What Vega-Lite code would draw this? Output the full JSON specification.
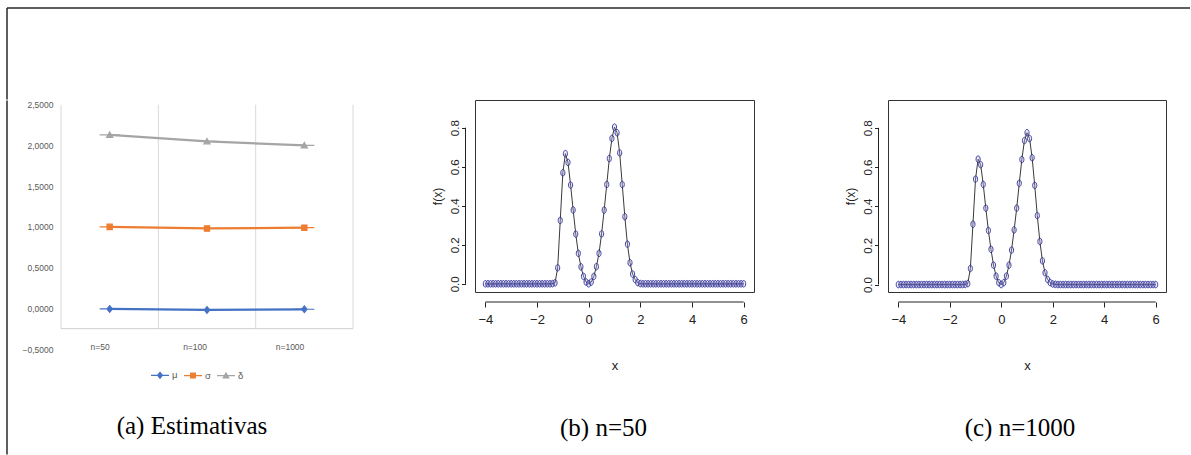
{
"$schema": "https://vega.github.io/schema/vega-lite/v6.json",
"padding": {"left": 6, "top": 7, "right": 0, "bottom": 0},
"autosize": {"type": "pad"},
"background": "white",
"config": {"view": {"stroke": null}},
"datasets": {
"est": [
{"n": "n=50", "series": "μ", "value": -0.008},
{"n": "n=100", "series": "μ", "value": -0.02},
{"n": "n=1000", "series": "μ", "value": -0.012},
{"n": "n=50", "series": "σ", "value": 1.0},
{"n": "n=100", "series": "σ", "value": 0.98},
{"n": "n=1000", "series": "σ", "value": 0.99},
{"n": "n=50", "series": "δ", "value": 2.13},
{"n": "n=100", "series": "δ", "value": 2.05},
{"n": "n=1000", "series": "δ", "value": 2.0}
],
"b": [
{"x":-4,"f":0},{"x":-3.9,"f":0},{"x":-3.8,"f":0},{"x":-3.7,"f":0},{"x":-3.6,"f":0},{"x":-3.5,"f":0},{"x":-3.4,"f":0},{"x":-3.3,"f":0},{"x":-3.2,"f":0},{"x":-3.1,"f":0},
{"x":-3,"f":0},{"x":-2.9,"f":0},{"x":-2.8,"f":0},{"x":-2.7,"f":0},{"x":-2.6,"f":0},{"x":-2.5,"f":0},{"x":-2.4,"f":0},{"x":-2.3,"f":0},{"x":-2.2,"f":0},{"x":-2.1,"f":0},
{"x":-2,"f":0},{"x":-1.9,"f":0},{"x":-1.8,"f":0},{"x":-1.7,"f":0},{"x":-1.6,"f":0},{"x":-1.5,"f":0},{"x":-1.4,"f":0.001},
{"x":-1.3,"f":0.005},{"x":-1.2,"f":0.082},{"x":-1.1,"f":0.325},{"x":-1,"f":0.569},{"x":-0.9,"f":0.667},{"x":-0.8,"f":0.622},{"x":-0.7,"f":0.506},{"x":-0.6,"f":0.378},{"x":-0.5,"f":0.255},{"x":-0.4,"f":0.156},
{"x":-0.3,"f":0.087},{"x":-0.2,"f":0.038},{"x":-0.1,"f":0.009},{"x":0,"f":0},{"x":0.1,"f":0.009},{"x":0.2,"f":0.038},{"x":0.3,"f":0.088},{"x":0.4,"f":0.156},{"x":0.5,"f":0.256},{"x":0.6,"f":0.378},
{"x":0.7,"f":0.509},{"x":0.8,"f":0.642},{"x":0.9,"f":0.745},{"x":1,"f":0.803},{"x":1.1,"f":0.774},{"x":1.2,"f":0.671},{"x":1.3,"f":0.509},{"x":1.4,"f":0.344},{"x":1.5,"f":0.203},{"x":1.6,"f":0.108},
{"x":1.7,"f":0.05},{"x":1.8,"f":0.022},{"x":1.9,"f":0.006},{"x":2,"f":0.001},
{"x":2.1,"f":0},{"x":2.2,"f":0},{"x":2.3,"f":0},{"x":2.4,"f":0},{"x":2.5,"f":0},{"x":2.6,"f":0},{"x":2.7,"f":0},{"x":2.8,"f":0},{"x":2.9,"f":0},{"x":3,"f":0},
{"x":3.1,"f":0},{"x":3.2,"f":0},{"x":3.3,"f":0},{"x":3.4,"f":0},{"x":3.5,"f":0},{"x":3.6,"f":0},{"x":3.7,"f":0},{"x":3.8,"f":0},{"x":3.9,"f":0},{"x":4,"f":0},
{"x":4.1,"f":0},{"x":4.2,"f":0},{"x":4.3,"f":0},{"x":4.4,"f":0},{"x":4.5,"f":0},{"x":4.6,"f":0},{"x":4.7,"f":0},{"x":4.8,"f":0},{"x":4.9,"f":0},{"x":5,"f":0},
{"x":5.1,"f":0},{"x":5.2,"f":0},{"x":5.3,"f":0},{"x":5.4,"f":0},{"x":5.5,"f":0},{"x":5.6,"f":0},{"x":5.7,"f":0},{"x":5.8,"f":0},{"x":5.9,"f":0},{"x":6,"f":0}
],
"c": [
{"x":-4,"f":0},{"x":-3.9,"f":0},{"x":-3.8,"f":0},{"x":-3.7,"f":0},{"x":-3.6,"f":0},{"x":-3.5,"f":0},{"x":-3.4,"f":0},{"x":-3.3,"f":0},{"x":-3.2,"f":0},{"x":-3.1,"f":0},
{"x":-3,"f":0},{"x":-2.9,"f":0},{"x":-2.8,"f":0},{"x":-2.7,"f":0},{"x":-2.6,"f":0},{"x":-2.5,"f":0},{"x":-2.4,"f":0},{"x":-2.3,"f":0},{"x":-2.2,"f":0},{"x":-2.1,"f":0},
{"x":-2,"f":0},{"x":-1.9,"f":0},{"x":-1.8,"f":0},{"x":-1.7,"f":0},{"x":-1.6,"f":0},{"x":-1.5,"f":0},{"x":-1.4,"f":0.001},
{"x":-1.3,"f":0.005},{"x":-1.2,"f":0.082},{"x":-1.1,"f":0.308},{"x":-1,"f":0.538},{"x":-0.9,"f":0.64},{"x":-0.8,"f":0.612},{"x":-0.7,"f":0.511},{"x":-0.6,"f":0.39},{"x":-0.5,"f":0.276},{"x":-0.4,"f":0.18},
{"x":-0.3,"f":0.099},{"x":-0.2,"f":0.043},{"x":-0.1,"f":0.01},{"x":0,"f":0},{"x":0.1,"f":0.01},{"x":0.2,"f":0.043},{"x":0.3,"f":0.099},{"x":0.4,"f":0.176},{"x":0.5,"f":0.279},{"x":0.6,"f":0.39},
{"x":0.7,"f":0.517},{"x":0.8,"f":0.638},{"x":0.9,"f":0.735},{"x":1,"f":0.775},{"x":1.1,"f":0.745},{"x":1.2,"f":0.647},{"x":1.3,"f":0.506},{"x":1.4,"f":0.352},{"x":1.5,"f":0.22},{"x":1.6,"f":0.121},
{"x":1.7,"f":0.06},{"x":1.8,"f":0.026},{"x":1.9,"f":0.01},{"x":2,"f":0.003},
{"x":2.1,"f":0.001},{"x":2.2,"f":0},{"x":2.3,"f":0},{"x":2.4,"f":0},{"x":2.5,"f":0},{"x":2.6,"f":0},{"x":2.7,"f":0},{"x":2.8,"f":0},{"x":2.9,"f":0},{"x":3,"f":0},
{"x":3.1,"f":0},{"x":3.2,"f":0},{"x":3.3,"f":0},{"x":3.4,"f":0},{"x":3.5,"f":0},{"x":3.6,"f":0},{"x":3.7,"f":0},{"x":3.8,"f":0},{"x":3.9,"f":0},{"x":4,"f":0},
{"x":4.1,"f":0},{"x":4.2,"f":0},{"x":4.3,"f":0},{"x":4.4,"f":0},{"x":4.5,"f":0},{"x":4.6,"f":0},{"x":4.7,"f":0},{"x":4.8,"f":0},{"x":4.9,"f":0},{"x":5,"f":0},
{"x":5.1,"f":0},{"x":5.2,"f":0},{"x":5.3,"f":0},{"x":5.4,"f":0},{"x":5.5,"f":0},{"x":5.6,"f":0},{"x":5.7,"f":0},{"x":5.8,"f":0},{"x":5.9,"f":0},{"x":6,"f":0}
]
},
"bounds": "flush",
"spacing": 0,
"vconcat": [
{
"width": 1183, "height": 91.6,
"view": {"stroke": "#2a2a2a", "strokeWidth": 1.5, "strokeJoin": "round", "strokeDash": [1183, 1274.6, 91.6]},
"data": {"values": []},
"mark": "point",
"encoding": {}
},
{
"bounds": "flush",
"spacing": 0,
"hconcat": [
{"width": 54, "height": 355, "view": {"stroke": "#2a2a2a", "strokeWidth": 1.5, "strokeJoin": "round", "strokeDash": [354, 464], "strokeDashOffset": 354.5}, "data": {"values": []}, "mark": "point", "encoding": {}},
{
"width": 292, "height": 249,
"data": {"name": "est"},
"title": {"text": "(a) Estimativas", "orient": "bottom", "anchor": "middle", "frame": "group", "font": "Liberation Serif", "fontSize": 25, "fontWeight": "normal", "color": "#000", "offset": 60, "dx": -15},
"layer": [
{
"transform": [{"filter": "datum.series == 'μ'"}],
"mark": {"type": "rule", "color": "#D9D9D9", "strokeWidth": 1},
"encoding": {
"x": {"field": "n", "type": "ordinal", "bandPosition": 0},
"y": {"datum": -0.25},
"y2": {"datum": 2.5}
}
},
{
"transform": [{"filter": "datum.n == 'n=1000' && datum.series == 'μ'"}],
"mark": {"type": "rule", "color": "#D9D9D9", "strokeWidth": 1},
"encoding": {
"x": {"field": "n", "type": "ordinal", "bandPosition": 1},
"y": {"datum": -0.25},
"y2": {"datum": 2.5}
}
},
{
"data": {"values": [{}]},
"mark": {"type": "rule", "color": "#D0D0D0", "strokeWidth": 1},
"encoding": {"y": {"datum": -0.25}}
},
{
"mark": {"type": "line", "strokeWidth": 2.25},
"encoding": {
"x": {"field": "n", "type": "ordinal", "sort": ["n=50", "n=100", "n=1000"],
"scale": {"type": "band", "domain": ["n=50", "n=100", "n=1000"], "paddingInner": 0, "paddingOuter": 0},
"axis": {"title": null, "domain": false, "ticks": false, "tickSize": 0, "grid": false, "labelAngle": 0, "labelBaseline": "middle", "labelPadding": -3, "labelFont": "Liberation Sans", "labelFontSize": 8.5, "labelColor": "#595959"}},
"y": {"field": "value", "type": "quantitative",
"scale": {"domain": [-0.5, 2.558], "nice": false, "zero": false},
"axis": {"title": null, "values": [-0.5, 0, 0.5, 1, 1.5, 2, 2.5], "labelExpr": "replace(format(datum.value, '.4f'), '.', ',')", "domain": false, "ticks": false, "grid": false, "labelPadding": 8, "labelFont": "Liberation Sans", "labelFontSize": 8.5, "labelColor": "#595959"}},
"color": {"field": "series", "type": "nominal",
"scale": {"domain": ["μ", "σ", "δ"], "range": ["#4472C4", "#ED7D31", "#A5A5A5"]},
"legend": {"title": null, "orient": "none", "legendX": 143, "legendY": 357, "direction": "horizontal", "symbolSize": 324, "symbolStrokeWidth": 1.2, "labelFont": "Liberation Sans", "labelFontSize": 9.5, "labelColor": "#595959", "labelOffset": 2, "columnPadding": 3, "padding": 0}}
}
},
{
"mark": {"type": "point", "filled": true, "size": 400, "strokeWidth": 1.2, "opacity": 1},
"encoding": {
"x": {"field": "n", "type": "ordinal"},
"y": {"field": "value", "type": "quantitative"},
"color": {"field": "series", "type": "nominal"},
"stroke": {"field": "series", "type": "nominal",
"scale": {"domain": ["μ", "σ", "δ"], "range": ["#4472C4", "#ED7D31", "#A5A5A5"]},
"legend": {"title": null, "orient": "none", "legendX": 143, "legendY": 357, "direction": "horizontal", "symbolSize": 324, "symbolStrokeWidth": 1.2, "labelFont": "Liberation Sans", "labelFontSize": 9.5, "labelColor": "#595959", "labelOffset": 2, "columnPadding": 3, "padding": 0}},
"shape": {"field": "series", "type": "nominal",
"scale": {"domain": ["μ", "σ", "δ"], "range": ["M-1,0H1M0,-0.33L0.27,0L0,0.33L-0.27,0Z", "M-1,0H1M-0.26,-0.27H0.26V0.27H-0.26Z", "M-1,0H1M0,-0.29L0.31,0.25H-0.31Z"]},
"legend": {"title": null, "orient": "none", "legendX": 143, "legendY": 357, "direction": "horizontal", "symbolSize": 324, "symbolStrokeWidth": 1.2, "labelFont": "Liberation Sans", "labelFontSize": 9.5, "labelColor": "#595959", "labelOffset": 2, "columnPadding": 3, "padding": 0}}
}
}
]
},
{"width": 122, "height": 10, "data": {"values": []}, "mark": "point", "encoding": {}},
{
"width": 279, "height": 192,
"view": {"stroke": "#333333", "strokeWidth": 1},
"title": {"text": "(b) n=50", "orient": "bottom", "anchor": "middle", "frame": "group", "font": "Liberation Serif", "fontSize": 25, "fontWeight": "normal", "color": "#000", "offset": 44, "dx": -11},
"data": {"name": "b"},
"layer": [
{
"mark": {"type": "line", "color": "#3a3a3a", "strokeWidth": 1},
"encoding": {
"x": {"field": "x", "type": "quantitative", "scale": {"domain": [-4.4, 6.4], "nice": false, "zero": false},
"axis": {"title": "x", "values": [-4, -2, 0, 2, 4, 6], "domain": false, "ticks": true, "tickSize": 5, "tickColor": "#222", "offset": 10, "grid": false, "labelFlush": false, "labelFont": "Liberation Sans", "labelFontSize": 13, "labelColor": "#222", "labelPadding": 6, "titleFont": "Liberation Sans", "titleFontSize": 13, "titleFontWeight": "normal", "titleColor": "#222", "titlePadding": 33}},
"y": {"field": "f", "type": "quantitative", "scale": {"domain": [-0.042, 0.942], "nice": false, "zero": false},
"axis": {"title": "f(x)", "values": [0, 0.2, 0.4, 0.6, 0.8], "format": ".1f", "domain": false, "ticks": true, "tickSize": 4, "tickColor": "#222", "offset": 9.5, "grid": false, "labelAngle": 270, "labelAlign": "center", "labelBaseline": "bottom", "labelPadding": 1, "labelFont": "Liberation Sans", "labelFontSize": 11.5, "labelColor": "#222", "titleFont": "Liberation Sans", "titleFontSize": 12, "titleFontWeight": "normal", "titleColor": "#222", "titlePadding": 5}}
}
},
{
"mark": {"type": "point", "shape": "M0,-1A0.62,1 0 1 1 0,1A0.62,1 0 1 1 0,-1Z", "size": 44, "filled": false, "stroke": "#2b2b9c", "strokeWidth": 1, "fill": "#b8b8d8", "fillOpacity": 0.3, "opacity": 0.9},
"encoding": {"x": {"field": "x", "type": "quantitative"}, "y": {"field": "f", "type": "quantitative"}}
},
{
"data": {"values": [{}]},
"mark": {"type": "rule", "color": "#222", "strokeWidth": 1, "yOffset": 10},
"encoding": {"x": {"datum": -4}, "x2": {"datum": 6}, "y": {"datum": -0.042}}
},
{
"data": {"values": [{}]},
"mark": {"type": "rule", "color": "#222", "strokeWidth": 1, "xOffset": -9.5},
"encoding": {"x": {"datum": -4.4}, "y": {"datum": 0}, "y2": {"datum": 0.8}}
}
]
},
{"width": 134, "height": 10, "data": {"values": []}, "mark": "point", "encoding": {}},
{
"width": 278, "height": 192,
"view": {"stroke": "#333333", "strokeWidth": 1},
"title": {"text": "(c) n=1000", "orient": "bottom", "anchor": "middle", "frame": "group", "font": "Liberation Serif", "fontSize": 25, "fontWeight": "normal", "color": "#000", "offset": 44, "dx": -7},
"data": {"name": "c"},
"layer": [
{
"mark": {"type": "line", "color": "#3a3a3a", "strokeWidth": 1},
"encoding": {
"x": {"field": "x", "type": "quantitative", "scale": {"domain": [-4.4, 6.4], "nice": false, "zero": false},
"axis": {"title": "x", "values": [-4, -2, 0, 2, 4, 6], "domain": false, "ticks": true, "tickSize": 5, "tickColor": "#222", "offset": 10, "grid": false, "labelFlush": false, "labelFont": "Liberation Sans", "labelFontSize": 13, "labelColor": "#222", "labelPadding": 6, "titleFont": "Liberation Sans", "titleFontSize": 13, "titleFontWeight": "normal", "titleColor": "#222", "titlePadding": 33}},
"y": {"field": "f", "type": "quantitative", "scale": {"domain": [-0.038, 0.942], "nice": false, "zero": false},
"axis": {"title": "f(x)", "values": [0, 0.2, 0.4, 0.6, 0.8], "format": ".1f", "domain": false, "ticks": true, "tickSize": 4, "tickColor": "#222", "offset": 9.5, "grid": false, "labelAngle": 270, "labelAlign": "center", "labelBaseline": "bottom", "labelPadding": 1, "labelFont": "Liberation Sans", "labelFontSize": 11.5, "labelColor": "#222", "titleFont": "Liberation Sans", "titleFontSize": 12, "titleFontWeight": "normal", "titleColor": "#222", "titlePadding": 5}}
}
},
{
"mark": {"type": "point", "shape": "M0,-1A0.62,1 0 1 1 0,1A0.62,1 0 1 1 0,-1Z", "size": 44, "filled": false, "stroke": "#2b2b9c", "strokeWidth": 1, "fill": "#b8b8d8", "fillOpacity": 0.3, "opacity": 0.9},
"encoding": {"x": {"field": "x", "type": "quantitative"}, "y": {"field": "f", "type": "quantitative"}}
},
{
"data": {"values": [{}]},
"mark": {"type": "rule", "color": "#222", "strokeWidth": 1, "yOffset": 10},
"encoding": {"x": {"datum": -4}, "x2": {"datum": 6}, "y": {"datum": -0.038}}
},
{
"data": {"values": [{}]},
"mark": {"type": "rule", "color": "#222", "strokeWidth": 1, "xOffset": -9.5},
"encoding": {"x": {"datum": -4.4}, "y": {"datum": 0}, "y2": {"datum": 0.8}}
}
]
}
]
}
]
}
